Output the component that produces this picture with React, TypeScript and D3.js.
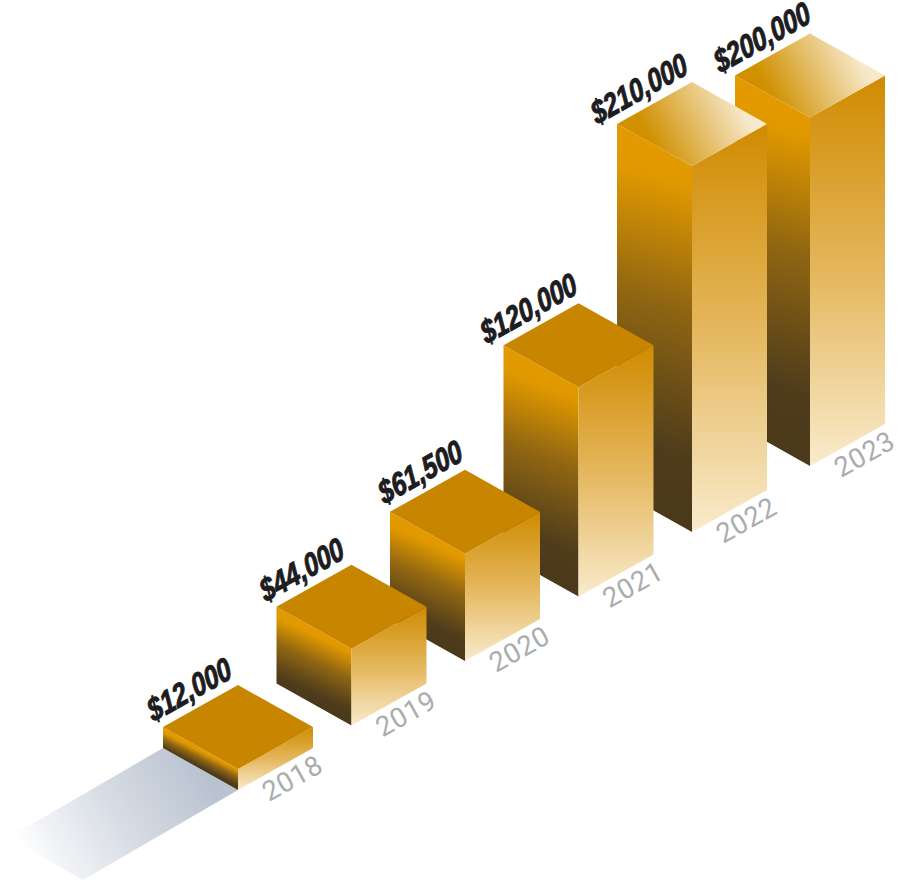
import React from 'react';
import * as d3 from 'd3';

const years = [2018, 2019, 2020, 2021, 2022, 2023];
const values = [12000, 44000, 61500, 120000, 210000, 200000];
const valueLabels = ['$12,000', '$44,000', '$61,500', '$120,000', '$210,000', '$200,000'];

const WIDTH = 898;
const HEIGHT = 889;
const HALF_W = 75; // half width of the iso diamond
const HALF_D = 42; // half depth of the iso diamond
const ANGLE = -29.25;
const SHADOW_X = -155;
const SHADOW_Y = 90;
// value labels were placed by hand in the original, slide each one along the edge
const labelNudge = [2, 1, 6, 7, 4, 9];

// front bottom corner of each bar; the last gap is a bit wider in the original
const baseX = d3.scaleLinear().domain([2018, 2022, 2023]).range([238, 692, 810]);
const baseY = d3.scaleLinear().domain([2018, 2022, 2023]).range([790, 532, 466]);
const barHeight = d3.scaleLinear().domain([0, 210000]).range([0, 366]);
// the dark gradient on the left face runs flatter the taller the bar gets
const leftTilt = d3.scaleLinear().domain([0, 366]).range([0.52, 0.28]);

const poly = d3.line<[number, number]>().curve(d3.curveLinearClosed);

const bars = years
  .map((year, i) => {
    const x = baseX(year);
    const y = baseY(year);
    const h = barHeight(values[i]);
    return { year, value: values[i], label: valueLabels[i], nudge: labelNudge[i], x, y, h, top: y - h };
  })
  .reverse(); // later years sit behind

export default function App() {
  const first = bars[bars.length - 1];
  return (
    <svg
      width={WIDTH}
      height={HEIGHT}
      viewBox={`0 0 ${WIDTH} ${HEIGHT}`}
      style={{ position: 'absolute', left: 0, top: 0, display: 'block' }}
    >
      <defs>
        <linearGradient
          id="shadow"
          gradientUnits="userSpaceOnUse"
          x1={first.x - HALF_W / 2}
          y1={first.y - HALF_D / 2}
          x2={first.x - HALF_W / 2 + SHADOW_X * 1.08}
          y2={first.y - HALF_D / 2 + SHADOW_Y * 1.08}
        >
          <stop offset="0" stopColor="#b9c3d0" />
          <stop offset="0.5" stopColor="#d8dde5" />
          <stop offset="0.85" stopColor="#f1f3f6" />
          <stop offset="1" stopColor="#ffffff" />
        </linearGradient>
        {bars.map(b => {
          const s = leftTilt(b.h);
          return (
            <React.Fragment key={b.year}>
              <linearGradient
                id={`left-${b.year}`}
                gradientUnits="userSpaceOnUse"
                x1={b.x}
                y1={b.top}
                x2={b.x - (s * b.h) / (1 + s * s)}
                y2={b.top + b.h / (1 + s * s)}
              >
                <stop offset="0" stopColor="#e39a00" />
                <stop offset="0.06" stopColor="#e09800" />
                <stop offset="0.4" stopColor="#8f6512" />
                <stop offset="0.8" stopColor="#4e3c1b" />
                <stop offset="1" stopColor="#4a391a" />
              </linearGradient>
              <linearGradient
                id={`right-${b.year}`}
                gradientUnits="userSpaceOnUse"
                x1={0}
                y1={b.top - HALF_D}
                x2={0}
                y2={b.y}
              >
                <stop offset="0" stopColor="#d08b00" />
                <stop offset="0.5" stopColor="#e4b65c" />
                <stop offset="1" stopColor="#f9ebcc" />
              </linearGradient>
              <linearGradient
                id={`top-${b.year}`}
                gradientUnits="userSpaceOnUse"
                x1={b.x - 45}
                y1={b.top - HALF_D + 10}
                x2={b.x + 40}
                y2={b.top - HALF_D - 35}
              >
                <stop offset="0" stopColor="#d09000" />
                <stop offset="1" stopColor="#f7e9cb" />
              </linearGradient>
            </React.Fragment>
          );
        })}
      </defs>

      <path
        d={
          poly([
            [first.x - HALF_W, first.y - HALF_D],
            [first.x, first.y],
            [first.x + SHADOW_X, first.y + SHADOW_Y],
            [first.x - HALF_W + SHADOW_X, first.y - HALF_D + SHADOW_Y],
          ]) ?? ''
        }
        fill="url(#shadow)"
      />

      {bars.map(b => (
        <g key={b.year}>
          <path
            d={
              poly([
                [b.x - HALF_W, b.top - HALF_D],
                [b.x, b.top],
                [b.x, b.y],
                [b.x - HALF_W, b.y - HALF_D],
              ]) ?? ''
            }
            fill={`url(#left-${b.year})`}
          />
          <path
            d={
              poly([
                [b.x, b.top],
                [b.x + HALF_W, b.top - HALF_D],
                [b.x + HALF_W, b.y - HALF_D],
                [b.x, b.y],
              ]) ?? ''
            }
            fill={`url(#right-${b.year})`}
          />
          <path
            d={
              poly([
                [b.x, b.top - 2 * HALF_D],
                [b.x + HALF_W, b.top - HALF_D],
                [b.x, b.top],
                [b.x - HALF_W, b.top - HALF_D],
              ]) ?? ''
            }
            fill={b.value > 150000 ? `url(#top-${b.year})` : '#c78500'}
          />
        </g>
      ))}

      {bars.map(b => (
        <g key={`labels-${b.year}`}>
          <text
            transform={`translate(${b.x - 6 + b.nudge},${b.top - 2 * HALF_D - 7 - b.nudge * 0.56}) rotate(${ANGLE}) skewX(-6) scale(0.8,1)`}
            textAnchor="end"
            fontFamily="'Liberation Sans Narrow', 'Liberation Sans', sans-serif"
            fontWeight={700}
            fontStyle="italic"
            fontSize={32}
            fill="#1d1c1f"
            stroke="#1d1c1f"
            strokeWidth={1}
          >
            {b.label}
          </text>
          <text
            transform={`translate(${b.x + 31},${b.y + 12}) rotate(${ANGLE})`}
            fontFamily="Roboto, sans-serif"
            fontWeight={400}
            fontSize={27.5}
            letterSpacing={0.6}
            fill="#aaacae"
          >
            {b.year}
          </text>
        </g>
      ))}
    </svg>
  );
}
